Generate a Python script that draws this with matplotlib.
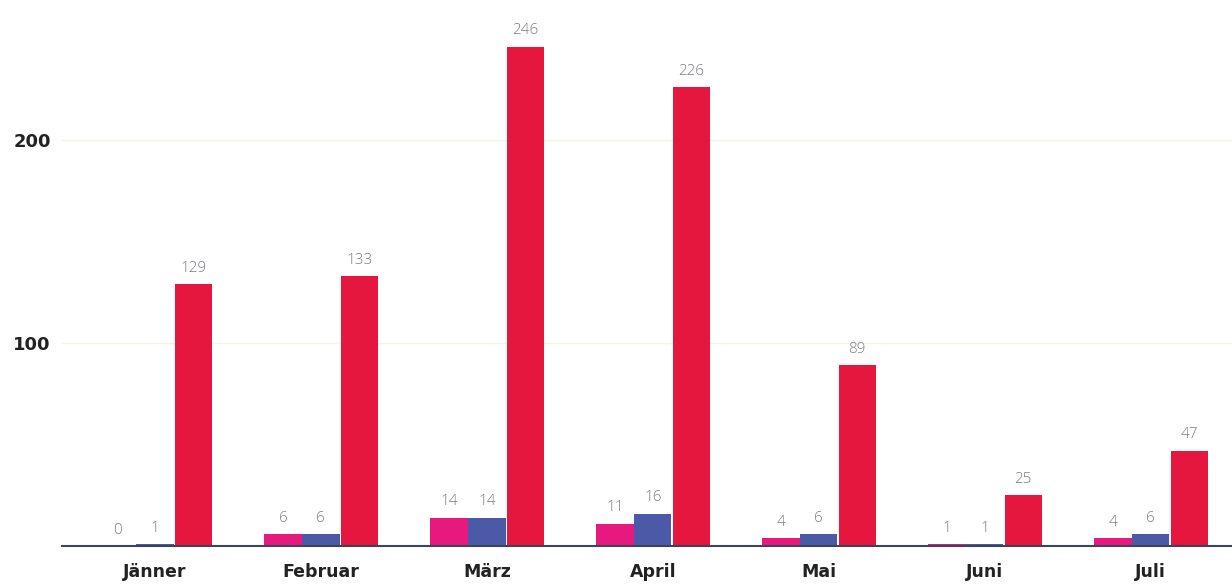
import numpy as np
import matplotlib
matplotlib.use("Agg")
import matplotlib.pyplot as plt

# ── Data ──────────────────────────────────────────────────────────────────────
months = ["Jänner", "Februar", "März", "April", "Mai", "Juni", "Juli"]
pink   = [0, 6, 14, 11, 4, 1, 4]
blue   = [1, 6, 14, 16, 6, 1, 6]
red    = [129, 133, 246, 226, 89, 25, 47]
yticks = [100, 200]

# ── Style ─────────────────────────────────────────────────────────────────────
PINK, BLUE, RED = "#E8197E", "#4B5AA6", "#E5173F"
LABEL_GREY = "#7c7c84"
plt.rcParams["font.family"] = ["DejaVu Sans"]

fig = plt.figure(figsize=(12.32, 5.86), dpi=100)
ax = fig.add_axes([0.0503, 0.068, 0.9497, 0.932])

x = np.arange(len(months))
w = 0.225
offsets = [-0.228, 0.0, 0.232]

for vals, off, col in zip([pink, blue, red], offsets, [PINK, BLUE, RED]):
    bars = ax.bar(x + off, vals, width=w, color=col, zorder=3)
    for b, v in zip(bars, vals):
        ax.annotate(f"{v}", (b.get_x() + b.get_width() / 2, v),
                    xytext=(0, 6), textcoords="offset points",
                    ha="center", va="bottom", fontsize=11,
                    color=LABEL_GREY, family="Open Sans", fontweight="light")

ax.set_xlim(-0.56, 6.49)
ax.set_ylim(0, 269)

ax.set_xticks(x)
ax.set_xticklabels(months, fontsize=12.5, fontweight="bold", color="#222222")
ax.set_yticks(yticks)
ax.set_yticklabels([str(t) for t in yticks], fontsize=13, fontweight="bold",
                   color="#222222")
ax.tick_params(axis="both", length=0)
ax.tick_params(axis="x", pad=12)
ax.tick_params(axis="y", pad=8)

ax.grid(axis="y", color="#f3f3ea", linewidth=1, zorder=0)
for side in ["top", "right", "left"]:
    ax.spines[side].set_visible(False)
ax.spines["bottom"].set_color("#3c4458")
ax.spines["bottom"].set_linewidth(1.5)
ax.spines["bottom"].set_zorder(4)

fig.savefig("out.png", dpi=100)
